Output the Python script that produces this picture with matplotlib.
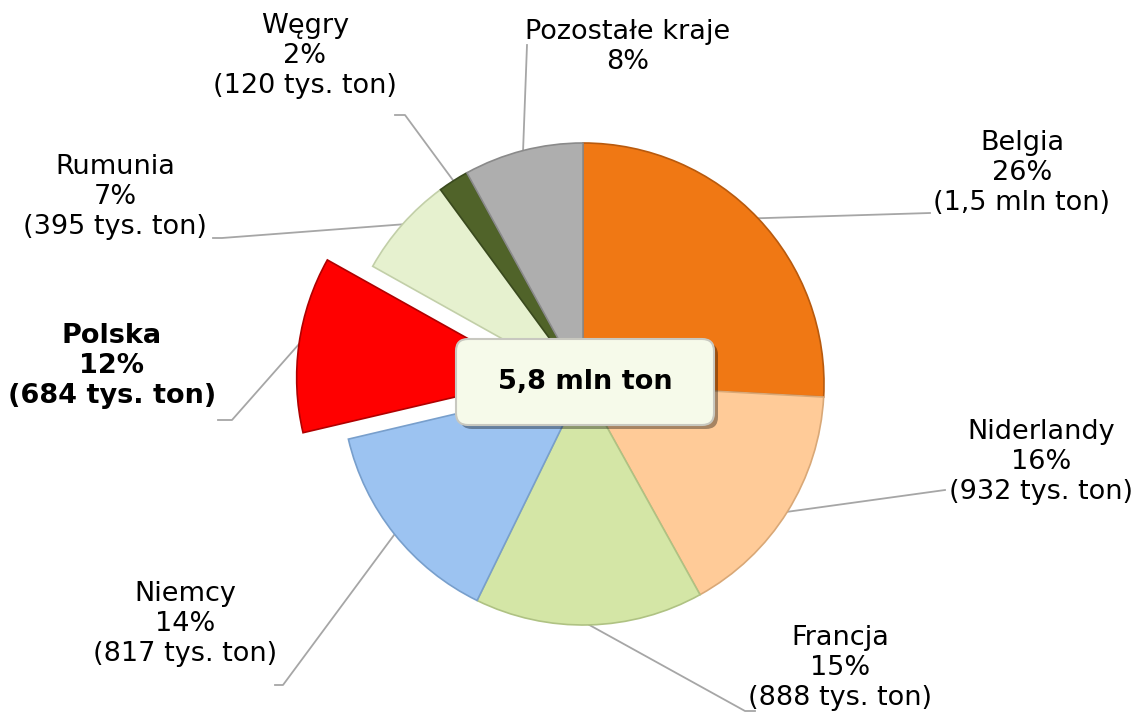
import numpy as np
import matplotlib.pyplot as plt
from matplotlib.patches import FancyBboxPatch

# data (tys. ton)
countries = ["Belgia", "Niderlandy", "Francja", "Niemcy", "Polska",
             "Rumunia", "Węgry", "Pozostałe kraje"]
values = [1500, 932, 888, 817, 684, 395, 120, 464]
shares = ["26%", "16%", "15%", "14%", "12%", "7%", "2%", "8%"]
amounts = ["(1,5 mln ton)", "(932 tys. ton)", "(888 tys. ton)", "(817 tys. ton)",
           "(684 tys. ton)", "(395 tys. ton)", "(120 tys. ton)", ""]
total_label = "5,8 mln ton"

colors = ["#F07814", "#FFCB98", "#D4E6A6", "#9CC3F1", "#FF0000",
          "#E6F1CF", "#506329", "#AEAEAE"]
edges = ["#B85A0E", "#D9A877", "#AFC283", "#789FCC", "#B00000",
         "#C2CFA8", "#3A4A1E", "#8A8A8A"]
explode_frac = [0, 0, 0, 0, 0.19, 0, 0, 0]

W, H = 1138, 714
fig = plt.figure(figsize=(W / 100, H / 100), dpi=100)
ax = fig.add_axes([0, 0, 1, 1])

cx, cy, R = 583, H - 384, 241
# explode in matplotlib is in data units, so scale by radius
explode = [e * R for e in explode_frac]
wedges, _ = ax.pie(values, colors=colors, startangle=90, counterclock=False,
                   explode=explode, center=(cx, cy), radius=R, frame=True,
                   wedgeprops=dict(linewidth=1.2))
for w, ec in zip(wedges, edges):
    w.set_edgecolor(ec)
ax.set_xlim(0, W)
ax.set_ylim(0, H)
ax.set_aspect("equal")
ax.axis("off")

# label layout in pixel coords (image y downwards): text centre, elbow, line end
layout = [
    ((1022, 173), (930, 213), (930, 213)),
    ((1041, 462), (945, 490), (945, 490)),
    ((840, 668), (745, 711), (755, 711)),
    ((185, 624), (283, 685), (275, 685)),
    ((112, 366), (232, 420), (218, 420)),
    ((115, 197), (222, 238), (213, 238)),
    ((305, 56), (405, 115), (395, 115)),
    ((628, 47), (527, 45), (527, 45)),
]

for i, w in enumerate(wedges):
    ang = np.deg2rad((w.theta1 + w.theta2) / 2)
    wx, wy = w.center
    px = wx + R * np.cos(ang)
    py = wy + R * np.sin(ang)
    (tx, ty), (ex, ey), (fx, fy) = layout[i]
    ax.plot([px, ex, fx], [py, H - ey, H - fy], color="#A6A6A6", lw=1.3, zorder=0)
    lines = [countries[i], shares[i]]
    if amounts[i]:
        lines.append(amounts[i])
    bold = countries[i] == "Polska"
    ax.text(tx, H - ty, "\n".join(lines), ha="center", va="center",
            fontsize=19.5, fontweight="bold" if bold else "normal",
            linespacing=1.22, color="black")

# centre box with shadow
bx, by, bw, bh = 456, H - 425, 258, 86
shadow = FancyBboxPatch((bx + 4, by - 4), bw, bh,
                        boxstyle="round,pad=0,rounding_size=12",
                        fc="#000000", ec="none", alpha=0.35, zorder=4)
box = FancyBboxPatch((bx, by), bw, bh, boxstyle="round,pad=0,rounding_size=12",
                     fc="#F6FAEA", ec="#C8C8C0", lw=1.5, zorder=5)
ax.add_patch(shadow)
ax.add_patch(box)
ax.text(bx + bw / 2, by + bh / 2, total_label, ha="center", va="center",
        fontsize=19.5, fontweight="bold", zorder=6)

fig.savefig("out.png", dpi=100)
